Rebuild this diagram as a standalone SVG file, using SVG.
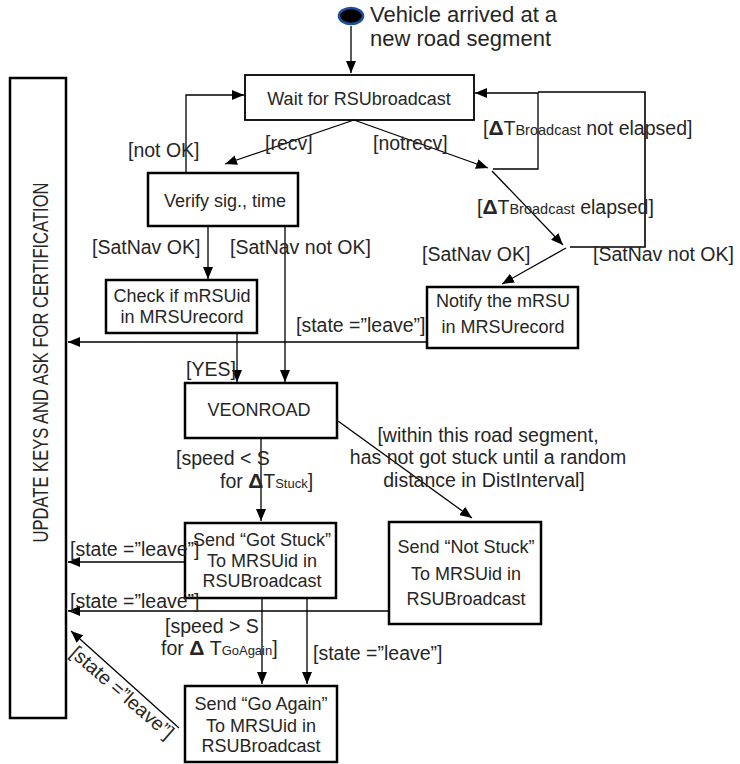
<svg xmlns="http://www.w3.org/2000/svg" width="740" height="764" viewBox="0 0 740 764">
<defs>
<marker id="ah" viewBox="0 0 12 10" refX="12" refY="5" markerWidth="12" markerHeight="10" markerUnits="userSpaceOnUse" orient="auto"><path d="M0,0 L12,5 L0,10 z" fill="#000"/></marker>
</defs>
<style>
text{font-family:"Liberation Sans",Arial,sans-serif;fill:#262626}
.box{fill:#fff;stroke:#000;stroke-width:2.5}
.bt{font-size:18px;text-anchor:middle}
.lb{font-size:19.5px}
.c{fill:none;stroke:#000;stroke-width:1.3}
.a{marker-end:url(#ah)}
.d{font-weight:bold;font-size:21px}
.sub{font-size:14.5px}
</style>
<rect width="740" height="764" fill="#fff"/>

<g id="start">
<ellipse cx="351" cy="16" rx="12" ry="8" fill="#000" stroke="#1f4e9a" stroke-width="2.5"/>
<text x="370" y="22" font-size="22">Vehicle arrived at a</text>
<text x="370" y="46" font-size="22">new road segment</text>
</g>

<g id="update">
<rect class="box" x="10" y="78" width="56" height="640"/>
<text transform="translate(48,362.5) rotate(-90)" font-size="22" text-anchor="middle" textLength="360" lengthAdjust="spacingAndGlyphs">UPDATE KEYS AND ASK FOR CERTIFICATION</text>
</g>

<g id="wait">
<rect class="box" x="245" y="75" width="229" height="45" style="stroke-width:1.8"/>
<text class="bt" x="359" y="105">Wait for RSUbroadcast</text>
</g>

<g id="verify">
<rect class="box" x="148" y="173" width="150" height="53"/>
<text class="bt" x="225" y="207">Verify sig., time</text>
</g>

<g id="check">
<rect class="box" x="106" y="280" width="151" height="53"/>
<text class="bt" x="182" y="302">Check if mRSUid</text>
<text class="bt" x="182" y="323">in MRSUrecord</text>
</g>

<g id="notify">
<rect class="box" x="427" y="287" width="151" height="61"/>
<text class="bt" x="503" y="307">Notify the mRSU</text>
<text class="bt" x="503" y="333">in MRSUrecord</text>
</g>

<g id="veonroad">
<rect class="box" x="185" y="383" width="152" height="55"/>
<text class="bt" x="259" y="416">VEONROAD</text>
</g>

<g id="gotstuck">
<rect class="box" x="185" y="523" width="151" height="75"/>
<text class="bt" x="262" y="546">Send “Got Stuck”</text>
<text class="bt" x="262" y="567">To MRSUid in</text>
<text class="bt" x="262" y="587">RSUBroadcast</text>
</g>

<g id="notstuck">
<rect class="box" x="389" y="522" width="152" height="102"/>
<text class="bt" x="466" y="553">Send “Not Stuck”</text>
<text class="bt" x="466" y="580">To MRSUid in</text>
<text class="bt" x="466" y="605">RSUBroadcast</text>
</g>

<g id="goagain">
<rect class="box" x="185" y="686" width="152" height="76"/>
<text class="bt" x="261" y="710">Send “Go Again”</text>
<text class="bt" x="261" y="732">To MRSUid in</text>
<text class="bt" x="261" y="752">RSUBroadcast</text>
</g>

<g id="connectors">
<path class="c a" d="M351,26 L351,73"/>
<path class="c a" d="M354,120 L225,164"/>
<path class="c a" d="M186,173 L186,95 L244,95"/>
<path class="c a" d="M354,120 L488,168"/>
<path class="c a" d="M493,169 L538,169 L538,93 L475,93"/>
<path class="c a" d="M492,171 L563,245"/>
<path class="c" d="M570,247 L645,247 L645,92 L538,92" style="stroke-width:1.6"/>
<path class="c a" d="M566,248 L502,284"/>
<path class="c a" d="M208,226 L208,279"/>
<path class="c a" d="M285,226 L285,382"/>
<path class="c a" d="M427,342 L68,342"/>
<path class="c a" d="M237,333 L237,382"/>
<path class="c a" d="M338,421 L472,518"/>
<path class="c a" d="M261,438 L261,521"/>
<path class="c a" d="M185,562 L68,562"/>
<path class="c a" d="M389,611 L68,611"/>
<path class="c a" d="M262,598 L262,684"/>
<path class="c a" d="M307,598 L307,684"/>
<path class="c a" d="M179,728 L71,631"/>
</g>

<g id="labels">
<text class="lb" x="265" y="150">[recv]</text>
<text class="lb" x="128" y="157">[not OK]</text>
<text class="lb" x="373" y="150">[notrecv]</text>
<text class="lb" x="483" y="135">[<tspan class="d">Δ</tspan>T<tspan class="sub">Broadcast</tspan> not elapsed]</text>
<text class="lb" x="477" y="214">[<tspan class="d">Δ</tspan>T<tspan class="sub">Broadcast</tspan> elapsed]</text>
<text class="lb" x="422" y="261">[SatNav OK]</text>
<text class="lb" x="593" y="261">[SatNav not OK]</text>
<text class="lb" x="92" y="254">[SatNav OK]</text>
<text class="lb" x="230" y="254">[SatNav not OK]</text>
<text class="lb" x="296" y="332">[state =”leave”]</text>
<text class="lb" x="186" y="376">[YES]</text>
<text class="lb" x="488" y="442" text-anchor="middle">[within this road segment,</text>
<text class="lb" x="488" y="464" text-anchor="middle">has not got stuck until a random</text>
<text class="lb" x="484" y="487" text-anchor="middle">distance in DistInterval]</text>
<text class="lb" x="176" y="465">[speed &lt; S</text>
<text class="lb" x="220" y="488">for <tspan class="d">Δ</tspan>T<tspan font-size="13">Stuck</tspan>]</text>
<text class="lb" x="70" y="556">[state =”leave”]</text>
<text class="lb" x="70" y="608">[state =”leave”]</text>
<text class="lb" x="165" y="633">[speed &gt; S</text>
<text class="lb" x="161" y="655">for <tspan class="d">Δ</tspan> T<tspan font-size="13">GoAgain</tspan>]</text>
<text class="lb" x="313" y="660">[state =”leave”]</text>
<text class="lb" transform="translate(69,655) rotate(41)">[state =”leave”]</text>
</g>
</svg>
